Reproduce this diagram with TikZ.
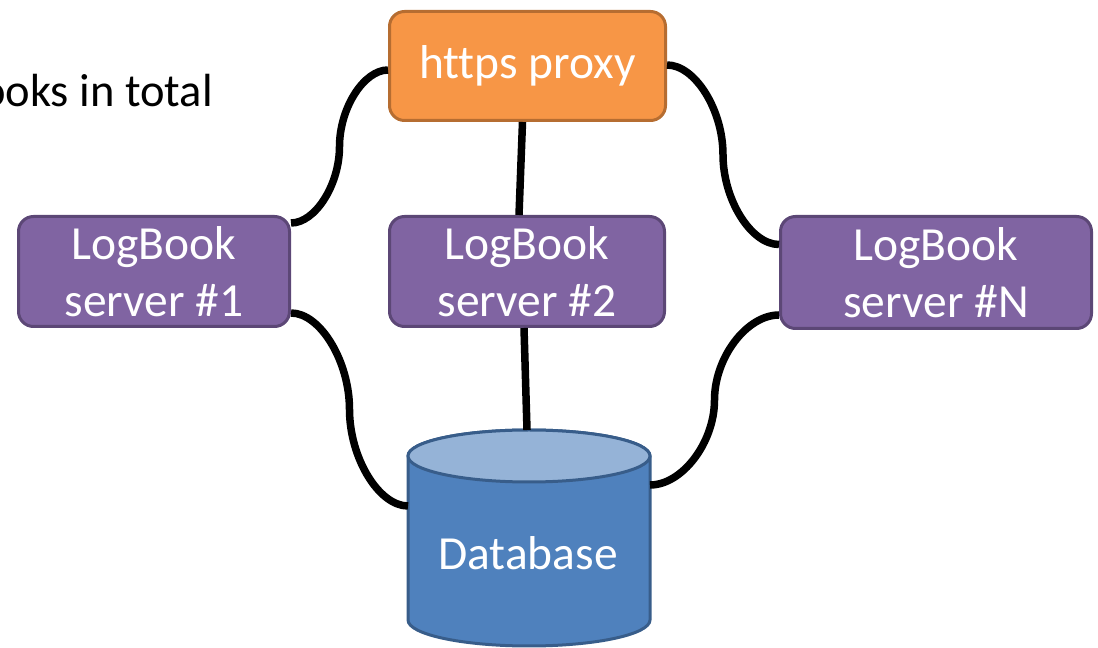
\documentclass[tikz,border=0pt]{standalone}
\usepackage{fontspec}
\setmainfont{Carlito}[Ligatures=NoCommon]
\usetikzlibrary{calc}

\definecolor{proxyfill}{HTML}{F79646}
\definecolor{proxyline}{HTML}{B66D31}
\definecolor{srvfill}{HTML}{8064A2}
\definecolor{srvline}{HTML}{5C4776}
\definecolor{dbbody}{HTML}{4F81BD}
\definecolor{dbtop}{HTML}{95B3D7}
\definecolor{dbline}{HTML}{385D8A}

\tikzset{
  box/.style={rectangle, rounded corners=15pt, line width=3pt, text=white,
    align=center, inner sep=0pt, font=\fontsize{47.5pt}{57pt}\selectfont},
  proxybox/.style={box, draw=proxyline, fill=proxyfill},
  srvbox/.style={box, draw=srvline, fill=srvfill},
  wire/.style={line width=7.5pt, black},
  % curved elbow connector: horizontal at both ends, vertical in the middle
  sconn/.style={to path={
    let \p1=(\tikztostart), \p2=(\tikztotarget),
        \n1={0.5*\x1+0.5*\x2}, \n2={0.5*\y1+0.5*\y2} in
    .. controls ({0.75*\x1+0.25*\x2},\y1) and ({\n1*1pt},{0.75*\y1+0.25*\y2})
    .. ({\n1*1pt},{\n2*1pt})
    .. controls ({\n1*1pt},{0.25*\y1+0.75*\y2}) and ({0.25*\x1+0.75*\x2},\y2)
    .. (\tikztotarget)}}
}

\begin{document}
\begin{tikzpicture}[x=1pt, y=1pt]
\useasboundingbox (0,0) rectangle (1098,648);
\clip (0,0) rectangle (1098,648);

% caption at the left edge
\node[anchor=base east, inner sep=0pt, font=\fontsize{46.5pt}{55pt}\selectfont]
  (caption) at (213,541) {ooks in total};

% database cylinder
\draw[line width=3pt, draw=dbline, fill=dbbody]
  (408,192) -- (408,28) arc[start angle=180, end angle=360, x radius=121pt, y radius=26pt]
  -- (650,192) arc[start angle=0, end angle=180, x radius=121pt, y radius=26pt] -- cycle;
\draw[line width=3pt, draw=dbline, fill=dbtop]
  (529,192) ellipse[x radius=121pt, y radius=26pt];
\node[text=white, font=\fontsize{47.5pt}{57pt}\selectfont, inner sep=0pt]
  (db) at (528,95) {Database};
\coordinate (dbL) at (408,142);
\coordinate (dbR) at (650,163);
\coordinate (dbT) at (527,218);

% boxes
\node[proxybox, minimum width=276pt, minimum height=109pt] (proxy) at (527.5,582) {https proxy};
\node[srvbox, minimum width=271pt, minimum height=110pt] (s1) at (154,376.5) {LogBook\\server \#1};
\node[srvbox, minimum width=275pt, minimum height=110pt] (s2) at (527,376.5) {LogBook\\server \#2};
\node[srvbox, minimum width=311pt, minimum height=112pt] (sN) at (936,375.5) {LogBook\\server \#N};

% connectors
\draw[wire] ([yshift=-4pt]proxy.west) to[sconn] ([yshift=-8pt]s1.north east);
\draw[wire] ([xshift=-5pt]proxy.south) -- ([xshift=-8pt]s2.north);
\draw[wire] ([yshift=1pt]proxy.east) to[sconn] ([yshift=28pt]sN.west);
\draw[wire] ([yshift=15pt]s1.south east) to[sconn] (dbL);
\draw[wire] ([xshift=-3pt]s2.south) -- (dbT);
\draw[wire] ([yshift=15pt]sN.south west) to[sconn] (dbR);
\end{tikzpicture}
\end{document}
